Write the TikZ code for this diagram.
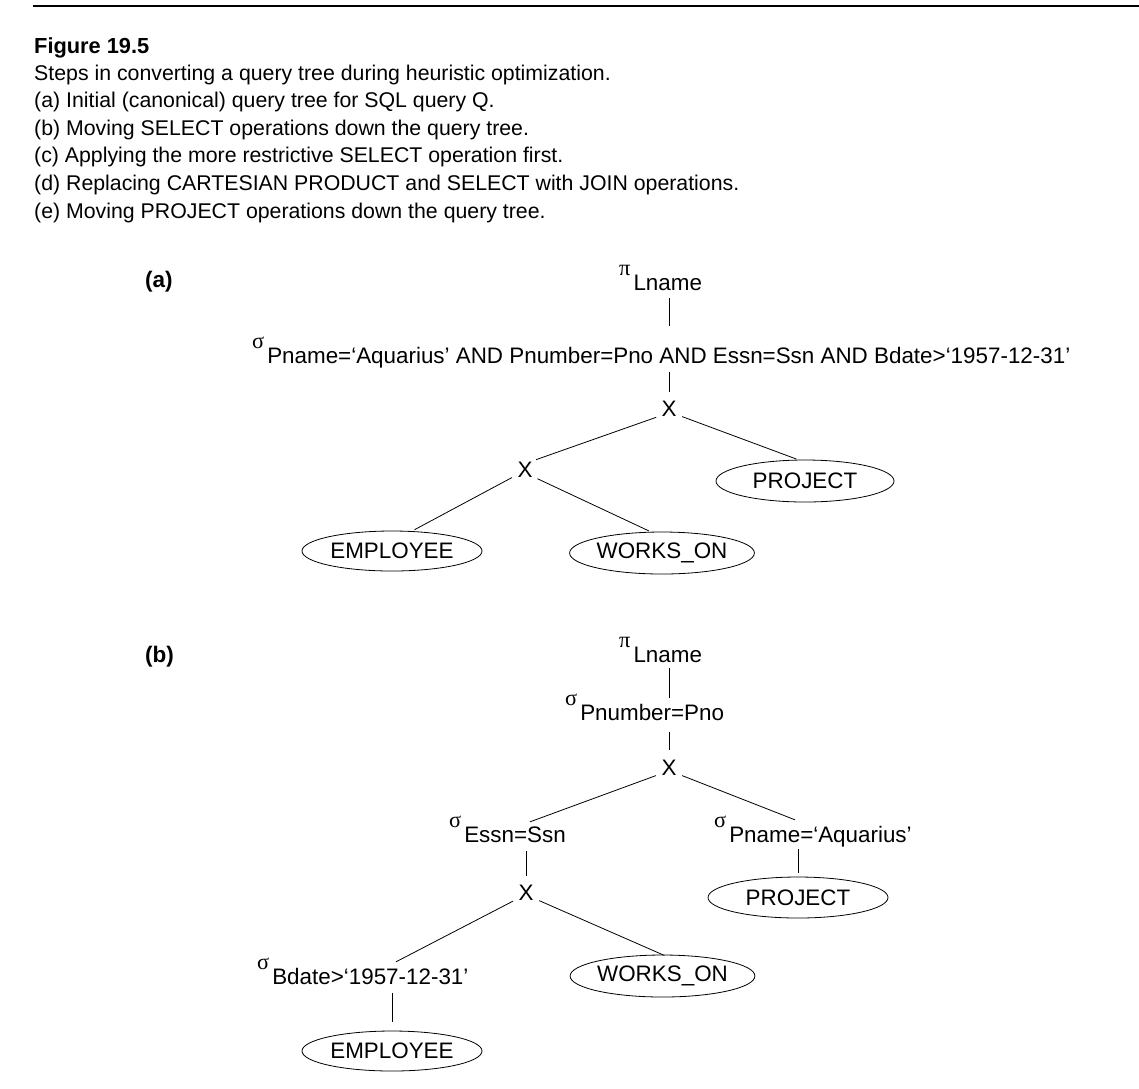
\documentclass[tikz,border=0pt]{standalone}
\usepackage{fontspec}
\usetikzlibrary{shapes.geometric}
\setmainfont{Liberation Sans}
\newfontfamily\grkfont{Liberation Serif}
\newcommand\gsym[1]{\raisebox{15pt}{\grkfont #1}\hspace{3pt}}
\begin{document}
\begin{tikzpicture}[x=1pt,y=-1pt,
  every node/.style={font=\fontsize{22.4}{26}\selectfont},
  capline/.style={anchor=base west, inner sep=0pt, font=\fontsize{21.3}{25}\selectfont},
  lbl/.style={anchor=base west, inner sep=0pt, text height=15pt, text depth=0pt},
  xop/.style={circle, inner sep=0pt, minimum size=30pt},
  rel/.style={ellipse, draw, line width=0.8pt, inner sep=0pt},
  conn/.style={line width=0.8pt},
  partlbl/.style={anchor=base west, inner sep=0pt, font=\fontsize{22.5}{26}\selectfont\bfseries},
]
\useasboundingbox (0,0) rectangle (1139,1088);
\draw[line width=2.2pt] (33,6) -- (1139,6);
\node[capline, font=\fontsize{21.8}{25}\selectfont\bfseries] (fig) at (34,53.5) {Figure 19.5};
\node[capline] (c0) at (34,80) {Steps in converting a query tree during heuristic optimization.};
\node[capline] (c1) at (34,107.6) {(a) Initial (canonical) query tree for SQL query Q.};
\node[capline] (c2) at (34,135.2) {(b) Moving SELECT operations down the query tree.};
\node[capline] (c3) at (34,162.8) {(c) Applying the more restrictive SELECT operation first.};
\node[capline] (c4) at (34,190.4) {(d) Replacing CARTESIAN PRODUCT and SELECT with JOIN operations.};
\node[capline] (c5) at (34,218) {(e) Moving PROJECT operations down the query tree.};

% ---------- (a)
\node[partlbl] (pa) at (145,287) {(a)};
\node[lbl] (piA) at (619,290.5) {\gsym{π}Lname};
\node[lbl] (sigA) at (252,363.5) {\gsym{σ}Pname=‘Aquarius’ AND Pnumber=Pno AND Essn=Ssn AND Bdate>‘1957-12-31’};
\node[xop] (xA1) at (669,409) {X};
\node[xop] (xA2) at (525,470) {X};
\node[rel, minimum width=178pt, minimum height=42pt] (projA) at (805,481) {PROJECT};
\node[rel, minimum width=180pt, minimum height=40pt] (empA) at (392,551) {EMPLOYEE};
\node[rel, minimum width=181pt, minimum height=42pt] (worksA) at (662,553) {WORKS\_ON};

\draw[conn, shorten <=7.5pt, shorten >=22.5pt] (piA.south -| xA1) -- (sigA.north -| xA1);
\draw[conn, shorten <=8.5pt, shorten >=2pt] (sigA.south -| xA1) -- (xA1.north);
\draw[conn] (xA1.213) -- (xA2.43);
\draw[conn, shorten >=2pt] (xA1.330) -- (projA.108);
\draw[conn, shorten >=3pt] (xA2.210) -- (empA.45);
\draw[conn, shorten >=2pt] (xA2.325) -- (worksA.118);

% ---------- (b)
\node[partlbl] (pb) at (145,662) {(b)};
\node[lbl] (piB) at (619,662.5) {\gsym{π}Lname};
\node[lbl] (sigB1) at (565,720.5) {\gsym{σ}Pnumber=Pno};
\node[xop] (xB1) at (669,768) {X};
\node[lbl] (sigB2) at (449,842.5) {\gsym{σ}Essn=Ssn};
\node[lbl] (sigB3) at (714,842.5) {\gsym{σ}Pname=‘Aquarius’};
\node[xop] (xB2) at (526,893) {X};
\node[rel, minimum width=180pt, minimum height=41pt] (projB) at (798,897.5) {PROJECT};
\node[lbl] (sigB4) at (257,984.5) {\gsym{σ}Bdate>‘1957-12-31’};
\node[rel, minimum width=181pt, minimum height=42pt] (worksB) at (662.5,976) {WORKS\_ON};
\node[rel, minimum width=180pt, minimum height=40pt] (empB) at (392,1051) {EMPLOYEE};

\draw[conn, shorten <=5.5pt, shorten >=7.5pt] (piB.south -| xB1) -- (sigB1.north -| xB1);
\draw[conn, shorten <=11.5pt, shorten >=3pt] (sigB1.south -| xB1) -- (xB1.north);
\draw[conn] (xB1.210) -- ([xshift=81pt,yshift=5.5pt]sigB2.north west);
\draw[conn] (xB1.330) -- ([xshift=81pt,yshift=7.5pt]sigB3.north west);
\draw[conn, shorten <=8.5pt, shorten >=2pt] (sigB2.south -| xB2) -- (xB2.north);
\draw[conn, shorten <=6.5pt, shorten >=4pt] (sigB3.south -| projB) -- (projB.north);
\draw[conn] (xB2.212) -- ([xshift=139pt,yshift=7.5pt]sigB4.north west);
\draw[conn, shorten >=-2pt] (xB2.330) -- (worksB.north);
\draw[conn, shorten <=8.5pt, shorten >=9pt] (sigB4.south -| empB) -- (empB.north);
\end{tikzpicture}
\end{document}
